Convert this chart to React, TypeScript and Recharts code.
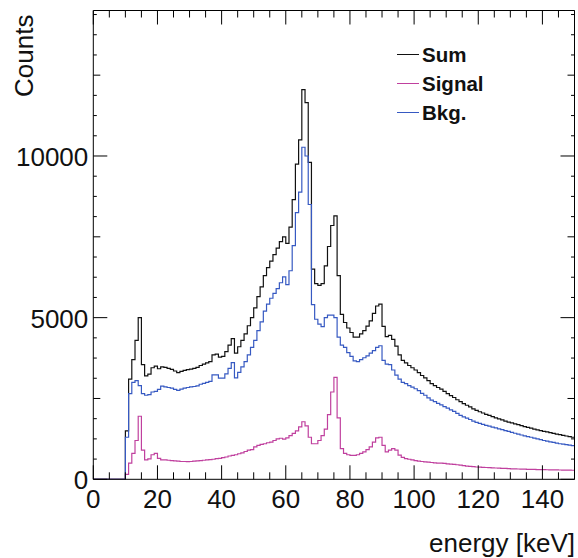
import React from 'react';
import { LineChart, Line, XAxis, YAxis, Legend } from 'recharts';

// Histogram bin width (keV) and bin contents, one value per bin starting at 0 keV
const BIN_WIDTH = 1;

const SUM = [
  0, 0, 0, 0, 0, 0, 0, 0, 0, 0,
  1500, 3100, 3700, 4300, 5000, 3550, 3200, 3250, 3450, 3500,
  3420, 3480, 3460, 3430, 3400, 3350, 3300, 3340, 3370, 3390,
  3410, 3430, 3460, 3520, 3560, 3600, 3640, 3850, 3870, 3780,
  3800, 3950, 4150, 4350, 3900, 4100, 4300, 4500, 4750, 5000,
  5300, 5650, 5950, 6300, 6550, 6750, 6950, 7150, 7350, 7500,
  7300, 7800, 8650, 9750, 10500, 12050, 11650, 9800, 6500, 6050,
  6000, 6050, 6600, 7200, 7850, 8150, 6300, 5100, 4850, 4680,
  4540, 4400, 4400, 4500, 4600, 4740, 4900, 5130, 5360, 5420,
  4730, 4410, 4450, 4330, 4120, 3850, 3680, 3600, 3520, 3450,
  3380, 3300, 3210, 3140, 3050, 2960, 2900, 2840, 2790, 2720,
  2650, 2590, 2530, 2460, 2400, 2340, 2290, 2240, 2180, 2130,
  2090, 2050, 2010, 1975, 1940, 1900, 1870, 1835, 1800, 1770,
  1745, 1715, 1690, 1660, 1630, 1605, 1580, 1555, 1530, 1505,
  1485, 1465, 1445, 1420, 1400, 1380, 1360, 1340, 1320, 1300,
];

const SIGNAL = [
  0, 0, 0, 0, 0, 0, 0, 0, 0, 0,
  150, 500, 800, 1200, 1950, 900, 600, 630, 760, 800,
  650, 600, 600, 590, 580, 570, 560, 550, 550, 545,
  550, 560, 570, 580, 590, 600, 610, 620, 640, 650,
  670, 690, 720, 740, 760, 790, 820, 860, 900, 920,
  1000, 1050, 1080, 1100, 1130, 1150, 1200, 1250, 1270, 1240,
  1280, 1350, 1420, 1500, 1620, 1780, 1650, 1300, 1100, 1100,
  1200, 1350, 1550, 2000, 2700, 3150, 1900, 950, 800, 760,
  740, 740, 760, 800, 850, 920, 1000, 1150, 1280, 1300,
  1050, 850, 900, 950, 900, 750, 680, 640, 620, 600,
  580, 560, 550, 540, 530, 520, 510, 500, 500, 490,
  480, 470, 460, 450, 440, 420, 410, 400, 390, 380,
  375, 370, 365, 360, 355, 350, 345, 340, 335, 330,
  325, 320, 318, 315, 312, 310, 308, 305, 302, 300,
  298, 296, 294, 292, 290, 288, 286, 284, 282, 280,
];

const BKG = [
  0, 0, 0, 0, 0, 0, 0, 0, 0, 0,
  1300, 2650, 3000, 3050, 2900, 2650, 2600, 2620, 2700, 2720,
  2780, 2880, 2860, 2840, 2820, 2780, 2750, 2790, 2820, 2840,
  2860, 2870, 2890, 2940, 2970, 3000, 3030, 3230, 3230, 3130,
  3130, 3260, 3430, 3610, 3140, 3310, 3480, 3640, 3850, 4080,
  4300, 4600, 4870, 5200, 5420, 5600, 5750, 5900, 6080, 6260,
  6020, 6450, 7230, 8250, 8880, 10270, 10000, 8500, 5400, 4950,
  4800, 4720, 5000, 5080, 5080, 5000, 4400, 4150, 4080, 3920,
  3800, 3660, 3640, 3700, 3760, 3820, 3900, 3980, 4080, 4130,
  3680, 3560, 3550, 3380, 3220, 3100, 3000, 2960, 2900, 2850,
  2800, 2740, 2660, 2600, 2520, 2450, 2400, 2350, 2300, 2250,
  2200, 2150, 2100, 2040, 1980, 1930, 1890, 1850, 1800, 1760,
  1730, 1700, 1670, 1645, 1615, 1590, 1560, 1535, 1505, 1480,
  1450, 1425, 1400, 1370, 1345, 1320, 1300, 1275, 1250, 1225,
  1200, 1180, 1160, 1140, 1120, 1100, 1085, 1070, 1055, 1040,
];

const X_TICKS = [0, 5, 10, 15, 20, 25, 30, 35, 40, 45, 50, 55, 60, 65, 70, 75, 80, 85, 90, 95, 100, 105, 110, 115, 120, 125, 130, 135, 140, 145, 150];
const X_LABELS = [0, 20, 40, 60, 80, 100, 120, 140];
const Y_TICKS = [
  0, 625, 1250, 1875, 2500, 3125, 3750, 4375, 5000, 5625, 6250, 6875,
  7500, 8125, 8750, 9375, 10000, 10625, 11250, 11875, 12500, 13125, 13750, 14375,
];
const Y_LABELS = [0, 5000, 10000];

const SERIES = [
  { key: 'sum', name: 'Sum', color: '#111111' },
  { key: 'signal', name: 'Signal', color: '#c0409e' },
  { key: 'bkg', name: 'Bkg.', color: '#3659c2' },
];

const FONT = '"Liberation Sans", Arial, Helvetica, sans-serif';

// Build histogram rows (bin low edge + contents), plus the closing edge
const rows: any[] = SUM.map((s, i) => ({ e: i * BIN_WIDTH, sum: s, signal: SIGNAL[i], bkg: BKG[i] }));
rows.push({ e: SUM.length * BIN_WIDTH, sum: SUM[SUM.length - 1], signal: SIGNAL[SIGNAL.length - 1], bkg: BKG[BKG.length - 1] });

const BottomTick = (props: any) => {
  const { x, y, payload } = props;
  const v = payload.value;
  const major = v % 20 === 0;
  const len = major ? 14 : 7;
  return (
    <g>
      <line x1={x} x2={x} y1={y} y2={y - len} stroke="#000" strokeWidth={1} />
      {X_LABELS.includes(v) ? (
        <text x={x} y={y + 29} textAnchor="middle" fontSize={26} fontFamily={FONT} fill="#111">
          {v}
        </text>
      ) : null}
    </g>
  );
};

const TopTick = (props: any) => {
  const { x, y, payload } = props;
  const v = payload.value;
  const len = v % 20 === 0 ? 14 : 7;
  return <line x1={x} x2={x} y1={y} y2={y + len} stroke="#000" strokeWidth={1} />;
};

const yLen = (v: number) => (v % 5000 === 0 ? 14 : v % 2500 === 0 ? 7 : 3.5);

const LeftTick = (props: any) => {
  const { x, y, payload } = props;
  const v = payload.value;
  return (
    <g>
      <line x1={x} x2={x + yLen(v)} y1={y} y2={y} stroke="#000" strokeWidth={1} />
      {Y_LABELS.includes(v) ? (
        <text x={x - 5} y={y + 10} textAnchor="end" fontSize={26} fontFamily={FONT} fill="#111">
          {v}
        </text>
      ) : null}
    </g>
  );
};

const RightTick = (props: any) => {
  const { x, y, payload } = props;
  const v = payload.value;
  return <line x1={x} x2={x - yLen(v)} y1={y} y2={y} stroke="#000" strokeWidth={1} />;
};

const renderLegend = () => {
  return (
    <div style={{ fontFamily: FONT, fontWeight: 'bold', fontSize: 20.5, color: '#111', lineHeight: '29px' }}>
      {SERIES.map((s) => (
        <div key={s.key} style={{ display: 'flex', alignItems: 'center', height: 29 }}>
          <span style={{ display: 'inline-block', width: 22, height: 0, borderTop: `1.3px solid ${s.color}`, marginRight: 3 }} />
          <span>{s.name}</span>
        </div>
      ))}
    </div>
  );
};

export default function App() {
  return (
    <div style={{ position: 'absolute', left: 0, top: 0, width: 578, height: 558, background: '#fff' }}>
      <LineChart width={578} height={558} data={rows} margin={{ top: 0, right: 0, bottom: 0, left: 0 }}>
        <XAxis
          xAxisId="b"
          dataKey="e"
          type="number"
          domain={[0, 150]}
          allowDataOverflow
          ticks={X_TICKS}
          interval={0}
          height={78.7}
          tickSize={0}
          tickMargin={0}
          tickLine={false}
          axisLine={{ stroke: '#000', strokeWidth: 1 }}
          tick={<BottomTick />}
        />
        <XAxis
          xAxisId="t"
          orientation="top"
          dataKey="e"
          type="number"
          domain={[0, 150]}
          allowDataOverflow
          ticks={X_TICKS}
          interval={0}
          height={10.5}
          tickSize={0}
          tickMargin={0}
          tickLine={false}
          axisLine={{ stroke: '#000', strokeWidth: 1 }}
          tick={<TopTick />}
        />
        <YAxis
          yAxisId="l"
          type="number"
          domain={[0, 14500]}
          allowDataOverflow
          ticks={Y_TICKS}
          interval={0}
          width={93.3}
          tickSize={0}
          tickMargin={0}
          tickLine={false}
          axisLine={{ stroke: '#000', strokeWidth: 1 }}
          tick={<LeftTick />}
        />
        <YAxis
          yAxisId="r"
          orientation="right"
          type="number"
          domain={[0, 14500]}
          allowDataOverflow
          ticks={Y_TICKS}
          interval={0}
          width={3.5}
          tickSize={0}
          tickMargin={0}
          tickLine={false}
          axisLine={{ stroke: '#000', strokeWidth: 1 }}
          tick={<RightTick />}
        />
        {SERIES.map((s) => (
          <Line
            key={s.key}
            xAxisId="b"
            yAxisId="l"
            type="stepAfter"
            dataKey={s.key}
            name={s.name}
            stroke={s.color}
            strokeWidth={1.2}
            dot={false}
            activeDot={false}
            isAnimationActive={false}
          />
        ))}
        <Legend
          layout="vertical"
          align="center"
          verticalAlign="middle"
          content={renderLegend}
          wrapperStyle={{ left: 397, top: 39.5, width: 160, height: 87 }}
        />
        <text x={575} y={551.5} textAnchor="end" fontSize={26} fontFamily={FONT} fill="#111">
          energy [keV]
        </text>
        <text transform="translate(33,97) rotate(-90)" textAnchor="start" fontSize={26} fontFamily={FONT} fill="#111">
          Counts
        </text>
      </LineChart>
    </div>
  );
}
